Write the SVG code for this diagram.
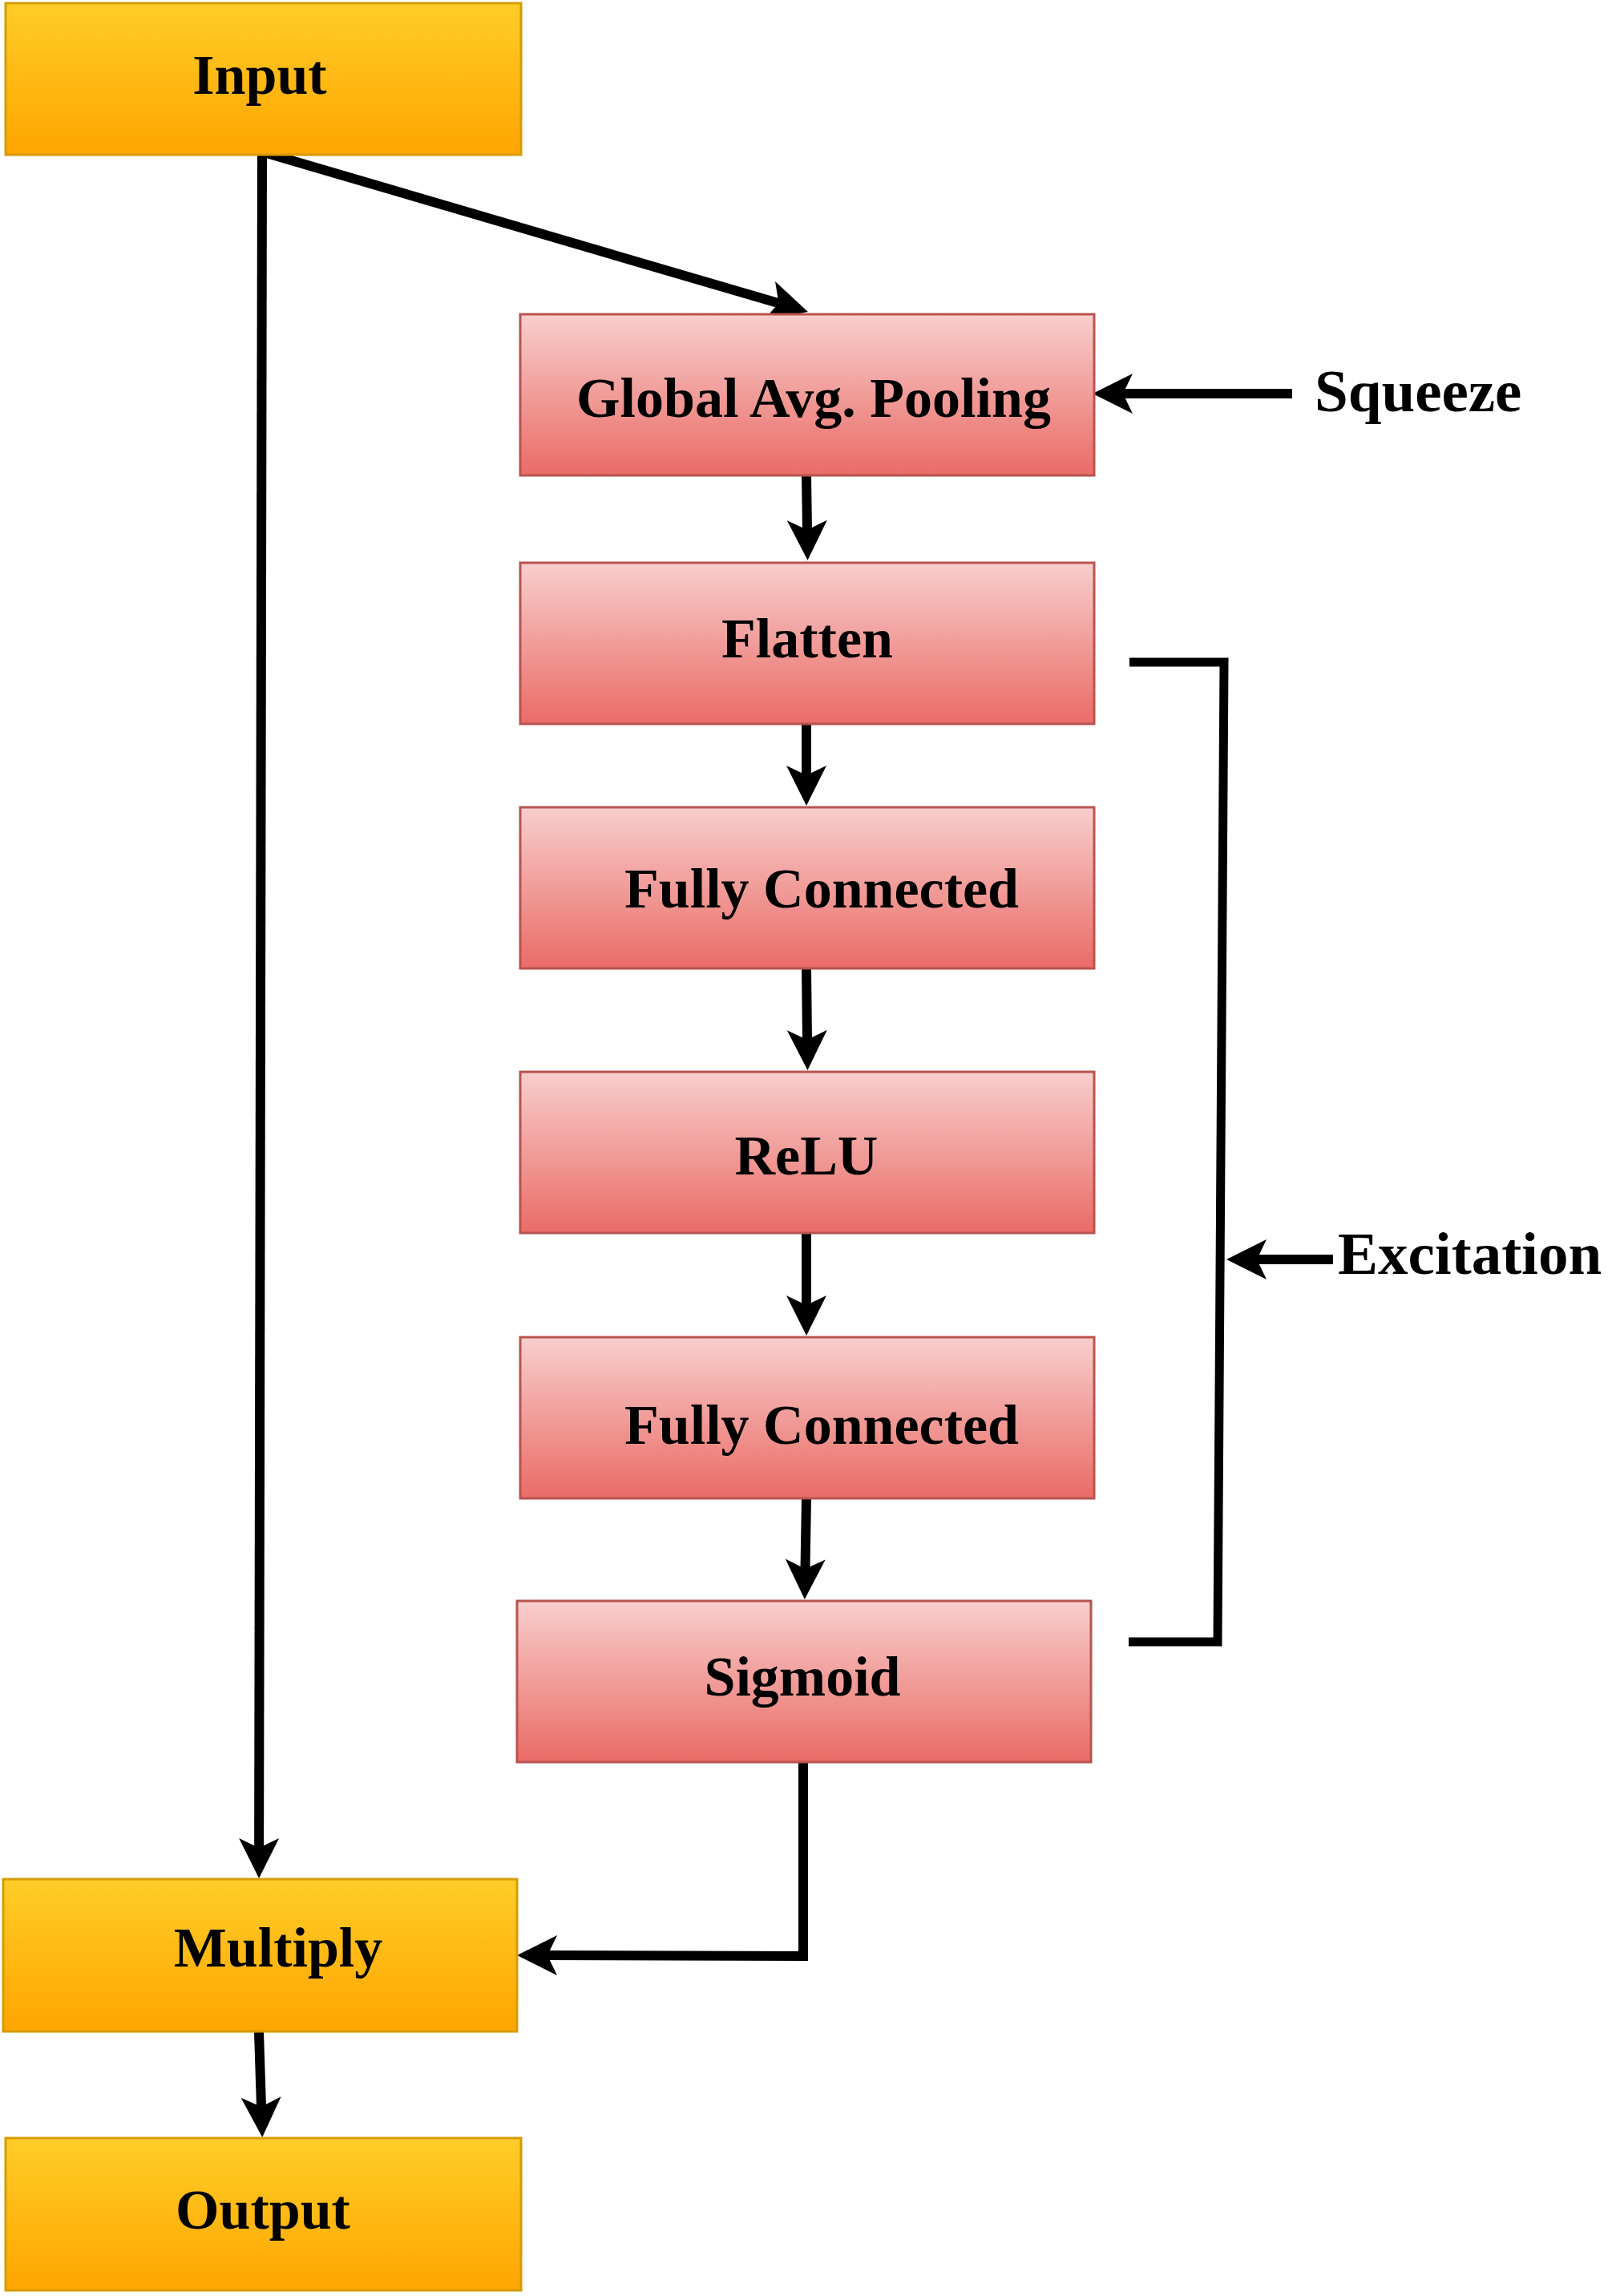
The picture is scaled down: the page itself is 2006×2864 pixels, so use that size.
<svg xmlns="http://www.w3.org/2000/svg" width="2006" height="2864" viewBox="0 0 2006 2864">
<style>
.lbl{font-family:"Liberation Serif","Times New Roman",serif;font-weight:bold;font-size:70px;fill:#000;text-anchor:middle}
.side{font-family:"Liberation Serif","Times New Roman",serif;font-weight:bold;font-size:75px;fill:#000}
.red{fill:url(#gRed);stroke:#B85450;stroke-width:3}
.yel{fill:url(#gYel);stroke:#D79B00;stroke-width:3}
.con{fill:none;stroke:#000;stroke-width:12;stroke-linejoin:miter;marker-end:url(#arr)}
.brk{fill:none;stroke:#000;stroke-width:11;stroke-linejoin:miter}
</style>
<defs>
<linearGradient id="gRed" x1="0" y1="0" x2="0" y2="1"><stop offset="0" stop-color="#F8CECC"/><stop offset="1" stop-color="#EA6B66"/></linearGradient>
<linearGradient id="gYel" x1="0" y1="0" x2="0" y2="1"><stop offset="0" stop-color="#FFCD28"/><stop offset="1" stop-color="#FFA500"/></linearGradient>
<marker id="arr" markerUnits="userSpaceOnUse" viewBox="-15 -27 56 54" markerWidth="56" markerHeight="54" refX="0" refY="0" orient="auto" overflow="visible">
<path d="M38,0 L-12,-25 L0,0 L-12,25 Z" fill="#000"/>
</marker>
</defs>
<rect width="2006" height="2864" fill="#fff"/>
<g id="connectors">
<path class="con" d="M329,190 L971.5,378.3"/>
<path class="con" d="M327,193 L323.1,2305"/>
<path class="con" d="M1006,593 L1007,661"/>
<path class="con" d="M1006,903 L1006,967"/>
<path class="con" d="M1006,1208 L1007,1297"/>
<path class="con" d="M1006,1538 L1006,1628"/>
<path class="con" d="M1006,1869 L1004.5,1957"/>
<path class="con" d="M1002,2198 L1002,2440 L683,2439"/>
<path class="con" d="M323,2535 L326,2628"/>
<path class="con" d="M1612,491 L1401,491"/>
<path class="con" d="M1663,1571 L1568,1571"/>
<path class="brk" d="M1409,826 L1527,826 L1519,2048 L1408,2048"/>
</g>
<g id="input"><rect class="yel" x="7" y="4" width="643" height="189"/><text class="lbl" x="324" y="117">Input</text></g>
<g id="gap"><rect class="red" x="649" y="392" width="716" height="201"/><text class="lbl" x="1015" y="520">Global Avg. Pooling</text></g>
<g id="flatten"><rect class="red" x="649" y="702" width="716" height="201"/><text class="lbl" x="1007" y="820">Flatten</text></g>
<g id="fc1"><rect class="red" x="649" y="1007" width="716" height="201"/><text class="lbl" x="1025" y="1132">Fully Connected</text></g>
<g id="relu"><rect class="red" x="649" y="1337" width="716" height="201"/><text class="lbl" x="1006" y="1465">ReLU</text></g>
<g id="fc2"><rect class="red" x="649" y="1668" width="716" height="201"/><text class="lbl" x="1025" y="1801">Fully Connected</text></g>
<g id="sigmoid"><rect class="red" x="645" y="1997" width="716" height="201"/><text class="lbl" x="1001" y="2115">Sigmoid</text></g>
<g id="multiply"><rect class="yel" x="4" y="2344" width="641" height="190"/><text class="lbl" x="347" y="2453">Multiply</text></g>
<g id="output"><rect class="yel" x="7" y="2667" width="643" height="190"/><text class="lbl" x="328" y="2780">Output</text></g>
<g id="squeeze"><text class="side" x="1640" y="513">Squeeze</text></g>
<g id="excitation"><text class="side" x="1669" y="1589">Excitation</text></g>
</svg>
